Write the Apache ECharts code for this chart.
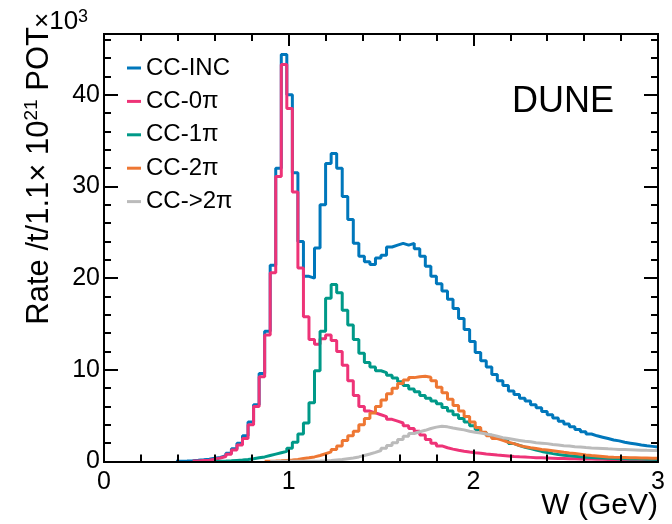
<!DOCTYPE html>
<html>
<head>
<meta charset="utf-8">
<script src="https://cdn.jsdelivr.net/npm/echarts@6/dist/echarts.min.js"></script>
<style>
html,body{margin:0;padding:0;background:#fff;}
#chart{width:672px;height:524px;}
</style>
</head>
<body>
<div id="chart"></div>
<script>
// ---- data (rates in units of 10^3, 100 bins of 0.03 GeV from 0 to 3 GeV) ----
const binWidth = 0.03;
const nBins = 100;
const xTicks = [0, 1, 2, 3];
const yTicks = [0, 10, 20, 30, 40];
const seriesNames = ['CC-INC', 'CC-0\u03c0', 'CC-1\u03c0', 'CC-2\u03c0', 'CC->2\u03c0'];
const seriesColors = ['#0077bb', '#ee3377', '#009988', '#ee7733', '#bbbbbb'];

const ccInc = [
 null,null,null,null,null,null,null,null,null,null,
 null,null,null,0.04,0.06,0.09,0.13,0.18,0.25,0.35,
 0.45,0.62,0.9,1.4,2.0,2.8,4.3,6.2,9.6,14.2,
 21.4,32.0,44.4,40.0,31.5,24.0,20.2,20.0,23.3,28.0,
 32.5,33.6,32.0,28.9,26.4,23.8,22.4,21.8,21.5,22.2,
 22.5,23.4,23.6,23.8,23.6,23.8,23.2,22.4,21.3,20.2,
 19.4,18.6,17.7,16.7,15.6,14.4,13.1,11.9,11.0,10.3,
 9.5,8.8,8.3,7.7,7.3,6.9,6.6,6.2,5.85,5.45,
 5.1,4.75,4.4,4.1,3.8,3.5,3.25,3.0,2.8,2.65,
 2.5,2.35,2.25,2.1,2.0,1.9,1.8,1.72,1.65,1.58
];
const cc0pi = [
 null,null,null,null,null,null,null,null,null,null,
 null,null,null,null,null,null,0.05,0.1,0.15,0.25,
 0.38,0.55,0.8,1.25,1.8,2.5,4.0,6.0,9.25,13.8,
 20.6,31.1,43.3,38.5,29.4,21.1,15.8,13.3,12.8,13.4,
 13.8,13.2,12.0,10.5,8.8,7.2,6.0,5.5,5.3,5.1,
 4.9,4.6,4.4,4.2,3.9,3.6,3.3,2.9,2.4,2.0,
 1.7,1.5,1.35,1.22,1.12,1.03,0.96,0.9,0.82,0.76,
 0.7,0.65,0.6,0.55,0.51,0.48,0.45,0.42,0.4,0.38,
 0.36,0.34,0.32,0.3,0.29,0.28,0.27,0.26,0.25,0.24,
 0.23,0.22,0.22,0.21,0.2,0.2,0.19,0.19,0.18,0.18
];
const cc1pi = [
 null,null,null,null,null,null,null,null,null,null,
 null,null,null,null,null,null,null,null,null,null,
 0.03,0.05,0.08,0.12,0.16,0.22,0.3,0.4,0.5,0.65,
 0.8,0.95,1.1,1.45,2.1,3.0,4.2,6.4,9.9,14.2,
 17.8,19.3,18.4,16.5,14.9,13.3,11.8,10.8,10.3,9.9,
 9.7,9.4,9.1,8.7,8.3,7.9,7.6,7.2,6.9,6.6,
 6.3,5.9,5.5,5.1,4.7,4.3,3.9,3.5,3.15,2.85,
 2.6,2.4,2.2,1.95,1.75,1.55,1.4,1.25,1.1,0.98,
 0.86,0.76,0.68,0.62,0.56,0.51,0.47,0.43,0.4,0.37,
 0.35,0.33,0.31,0.29,0.28,0.27,0.26,0.25,0.24,0.23
];
const cc2pi = [
 null,null,null,null,null,null,null,null,null,null,
 null,null,null,null,null,null,null,null,null,null,
 null,null,null,null,null,null,null,null,null,0.03,
 0.05,0.08,0.12,0.16,0.22,0.33,0.4,0.5,0.65,0.85,
 1.05,1.3,1.7,2.3,2.8,3.3,4.0,4.7,5.3,6.0,
 6.7,7.4,8.0,8.5,8.9,9.15,9.25,9.3,9.2,8.8,
 8.1,7.5,6.8,6.1,5.5,4.9,4.3,3.7,3.2,2.8,
 2.5,2.3,2.1,1.95,1.75,1.6,1.5,1.42,1.32,1.25,
 1.18,1.1,1.0,0.93,0.87,0.8,0.72,0.65,0.6,0.55,
 0.5,0.47,0.45,0.43,0.41,0.4,0.38,0.37,0.36,0.35
];
const ccGt2pi = [
 null,null,null,null,null,null,null,null,null,null,
 null,null,null,null,null,null,null,null,null,null,
 null,null,null,null,null,null,null,null,null,null,
 0.01,0.01,0.02,0.02,0.03,0.03,0.04,0.04,0.05,0.08,
 0.12,0.17,0.22,0.3,0.38,0.5,0.65,0.82,1.0,1.2,
 1.45,1.75,2.05,2.4,2.75,3.05,3.25,3.4,3.6,3.75,
 3.85,3.78,3.65,3.55,3.45,3.3,3.2,3.1,3.0,2.9,
 2.75,2.6,2.5,2.4,2.3,2.2,2.15,2.05,2.0,1.95,
 1.85,1.8,1.72,1.68,1.62,1.58,1.52,1.48,1.45,1.42,
 1.38,1.35,1.32,1.3,1.28,1.26,1.24,1.22,1.21,1.2
];
const allSeries = [ccInc, cc0pi, cc1pi, cc2pi, ccGt2pi];

// ---- build histogram step data from bins ----
function histData(vals) {
  const out = [];
  for (let i = 0; i < nBins; i++) out.push([+(i * binWidth).toFixed(4), vals[i]]);
  out.push([+(nBins * binWidth).toFixed(4), vals[nBins - 1]]);
  return out;
}

const FONT = 'Liberation Sans, Arial, Helvetica, sans-serif';
const yMax = 46.63;
const black = '#000';

function xAx(pos, interval, len, labels) {
  return {
    type: 'value', min: 0, max: 3, interval: interval, position: pos, z: 5,
    axisLine: { show: true, onZero: false, lineStyle: { color: black, width: 2 } },
    axisTick: { show: true, inside: true, length: len, lineStyle: { color: black, width: 2 } },
    axisLabel: labels ? { show: true, fontSize: 25, color: black, fontFamily: FONT, margin: 8,
      formatter: v => (xTicks.indexOf(v) >= 0 ? String(v) : '') } : { show: false },
    splitLine: { show: false }
  };
}
function yAx(pos, interval, len, labels) {
  return {
    type: 'value', min: 0, max: yMax, interval: interval, position: pos, z: 5,
    axisLine: { show: true, onZero: false, lineStyle: { color: black, width: 2 } },
    axisTick: { show: true, inside: true, length: len, lineStyle: { color: black, width: 2 } },
    axisLabel: labels ? { show: true, fontSize: 25, color: black, fontFamily: FONT, margin: 4,
      showMaxLabel: false,
      formatter: v => (yTicks.indexOf(v) >= 0 ? String(v) : '') } : { show: false },
    splitLine: { show: false }
  };
}

const chart = echarts.init(document.getElementById('chart'), null, { renderer: 'canvas' });
const option = {
  animation: false,
  backgroundColor: '#fff',
  grid: { left: 104, right: 14, top: 34, bottom: 62.5, containLabel: false },
  xAxis: [
    xAx('bottom', 1, 12, true),
    xAx('bottom', 0.2, 7, false),
    xAx('top', 1, 12, false),
    xAx('top', 0.2, 7, false)
  ],
  yAxis: [
    yAx('left', 10, 14, true),
    yAx('left', 2, 7, false),
    yAx('right', 10, 14, false),
    yAx('right', 2, 7, false)
  ],
  legend: {
    orient: 'vertical', left: 127, top: 54, padding: 0,
    itemWidth: 14, itemHeight: 3, itemGap: 5.4, icon: 'rect',
    textStyle: { fontSize: 24, color: black, fontFamily: FONT, lineHeight: 28 },
    data: seriesNames
  },
  series: allSeries.map((vals, k) => ({
    name: seriesNames[k], type: 'line', step: 'end', xAxisIndex: 0, yAxisIndex: 0,
    showSymbol: false, symbol: 'none', connectNulls: false,
    lineStyle: { color: seriesColors[k], width: 3 },
    itemStyle: { color: seriesColors[k] },
    data: histData(vals)
  })),
  graphic: [
    { type: 'text', left: 512, top: 84, style: { text: 'DUNE', fontSize: 36, fontFamily: FONT, fill: black } },
    { type: 'text', x: 658, y: 506, style: { text: 'W (GeV)', fontSize: 30, fontFamily: FONT, fill: black, align: 'right', verticalAlign: 'middle' } },
    { type: 'text', x: 39, y: 27, rotation: Math.PI / 2,
      style: { text: '{a|Rate /t/1.1\u00d7 10}{s|21}{a| POT}', align: 'right', verticalAlign: 'middle',
        rich: { a: { fontSize: 31, fontFamily: FONT, fill: black, lineHeight: 33 },
                s: { fontSize: 19, fontFamily: FONT, fill: black, verticalAlign: 'top', lineHeight: 33 } } } },
    { type: 'text', x: 34, y: 22,
      style: { text: '{a|\u00d710}{s|3}', align: 'left', verticalAlign: 'middle',
        rich: { a: { fontSize: 26, fontFamily: FONT, fill: black, lineHeight: 28 },
                s: { fontSize: 18, fontFamily: FONT, fill: black, verticalAlign: 'top', lineHeight: 28 } } } }
  ]
};
chart.setOption(option);
</script>
</body>
</html>
